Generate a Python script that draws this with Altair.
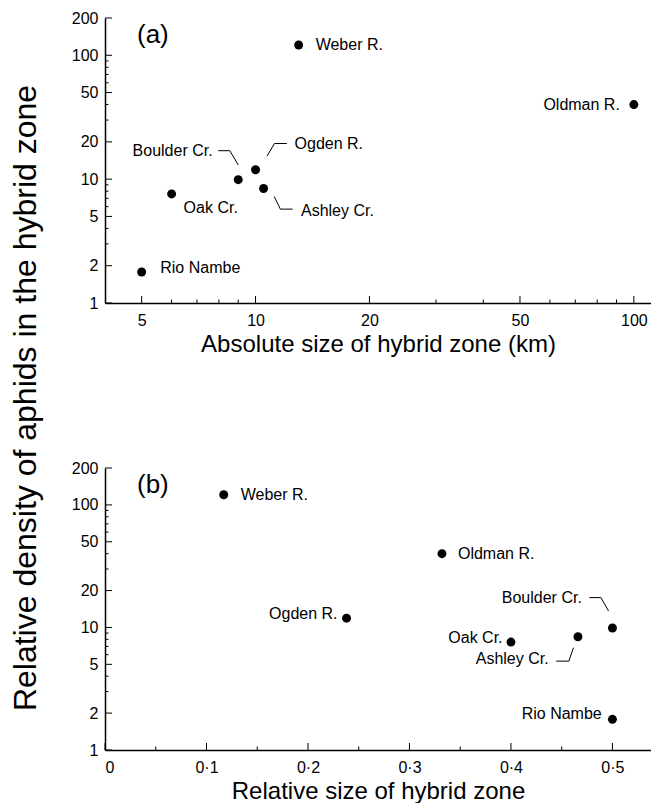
import altair as alt
import numpy as np
import pandas as pd

# ---------------- data ----------------
sites = ["Weber R.", "Oldman R.", "Boulder Cr.", "Ogden R.", "Ashley Cr.", "Oak Cr.", "Rio Nambe"]
abs_size_km = [13.0, 100.0, 9.0, 10.0, 10.5, 6.0, 5.0]
rel_size = [0.117, 0.332, 0.5, 0.238, 0.466, 0.40, 0.5]
density = [121.0, 40.0, 9.9, 11.9, 8.4, 7.6, 1.78]

y_major = [1, 2, 5, 10, 20, 50, 100, 200]
y_minor = [3, 4, 6, 7, 8, 9, 30, 40, 60, 70, 80, 90]
xa_major = [5, 10, 20, 50, 100]
xa_minor = [6, 7, 8, 9, 30, 40, 60, 70, 80, 90]
xb_major = [0, 0.1, 0.2, 0.3, 0.4, 0.5]
xb_minor = [0.05, 0.15, 0.25, 0.35, 0.45]

y_title = "Relative density of aphids in the hybrid zone"
xa_title = "Absolute size of hybrid zone (km)"
xb_title = "Relative size of hybrid zone"

# ---------------- layout / style ----------------
FONT = "Liberation Sans"
W = 546
HA = 285
HB = 282
XA_DOM = [4, 111]
XB_DOM = [0, 0.538]
Y_DOM = [1, 200]

# label placement: pixel offsets from the point (dx, dy, align)
lab_a = {
    "Weber R.": (17, 0, "left"), "Oldman R.": (-14, 0, "right"),
    "Boulder Cr.": (-25.6, -29, "right"), "Ogden R.": (39, -26, "left"),
    "Ashley Cr.": (37.4, 22, "left"), "Oak Cr.": (12, 14.5, "left"),
    "Rio Nambe": (18.6, -4, "left"),
}
lab_b = {
    "Weber R.": (17, 0, "left"), "Oldman R.": (16, 0, "left"),
    "Ogden R.": (-9, -4, "right"), "Oak Cr.": (-8.4, -4, "right"),
    "Ashley Cr.": (-29.3, 22.7, "right"), "Boulder Cr.": (-30.6, -30, "right"),
    "Rio Nambe": (-10.7, -5, "right"),
}
lead_a = {
    "Boulder Cr.": [(-20, -29), (-8.4, -29), (0, -14.7)],
    "Ogden R.": [(31.3, -26.3), (19, -26.3), (11.4, -13.6)],
    "Ashley Cr.": [(10.7, 8), (16.8, 20.6), (29, 20.6)],
}
lead_b = {
    "Boulder Cr.": [(-23, -30.4), (-11.5, -30.4), (-3.9, -17)],
    "Ashley Cr.": [(-21.7, 24.4), (-9.1, 24.4), (-4.5, 11)],
}


def make_panel(xvals, xdom, xlog, xmaj, xmin, xtitle, H, labs, leads, tag, label_expr=None):
    # pixel -> data conversions (derived from the scales below)
    ydec = H / np.log10(Y_DOM[1] / Y_DOM[0])
    if xlog:
        xdec = W / np.log10(xdom[1] / xdom[0])
        fx = lambda x, dx: x * 10 ** (dx / xdec)
    else:
        upp = (xdom[1] - xdom[0]) / W
        fx = lambda x, dx: x + dx * upp
    fy = lambda y, dy: y * 10 ** (-dy / ydec)

    xscale = alt.Scale(type="log" if xlog else "linear", domain=xdom, nice=False, zero=False)
    yscale = alt.Scale(type="log", domain=Y_DOM, nice=False)
    axis_kw = dict(values=xmaj, title=xtitle, titlePadding=4, labelPadding=9)
    if label_expr:
        axis_kw["labelExpr"] = label_expr
    else:
        axis_kw["format"] = "d"
    xaxis = alt.Axis(**axis_kw)
    yaxis = alt.Axis(values=y_major, title=None, format="d", labelPadding=7)

    X = lambda f: alt.X(f, type="quantitative", scale=xscale, axis=xaxis)
    Y = lambda f: alt.Y(f, type="quantitative", scale=yscale, axis=yaxis)

    pts = pd.DataFrame({"site": sites, "x": xvals, "y": density})

    rows = []
    for s, xv, yv in zip(sites, xvals, density):
        dx, dy, al = labs[s]
        rows.append({"site": s, "x": fx(xv, dx), "y": fy(yv, dy), "align": al})
    labdf = pd.DataFrame(rows)

    lrows = []
    for s, segs in leads.items():
        i = sites.index(s)
        for k, (dx, dy) in enumerate(segs):
            lrows.append({"site": s, "k": k, "x": fx(xvals[i], dx), "y": fy(density[i], dy)})
    leaddf = pd.DataFrame(lrows)

    base_pts = alt.Chart(pts).mark_circle(size=80, color="black", opacity=1).encode(x=X("x"), y=Y("y"))
    lab_l = alt.Chart(labdf[labdf["align"] == "left"]).mark_text(
        align="left", baseline="middle", font=FONT, fontSize=16, color="black"
    ).encode(x=X("x"), y=Y("y"), text="site:N")
    lab_r = alt.Chart(labdf[labdf["align"] == "right"]).mark_text(
        align="right", baseline="middle", font=FONT, fontSize=16, color="black"
    ).encode(x=X("x"), y=Y("y"), text="site:N")
    leaders = alt.Chart(leaddf).mark_line(color="black", strokeWidth=1).encode(
        x=X("x"), y=Y("y"), detail="site:N", order="k:Q"
    )

    # inward ticks
    xt_maj = alt.Chart(pd.DataFrame({"x": xmaj})).mark_rule(color="black", strokeWidth=1).encode(
        x=X("x"), y=alt.value(H - 7), y2=alt.value(H))
    xt_min = alt.Chart(pd.DataFrame({"x": xmin})).mark_rule(color="black", strokeWidth=1).encode(
        x=X("x"), y=alt.value(H - 3.5), y2=alt.value(H))
    yt_maj = alt.Chart(pd.DataFrame({"y": y_major})).mark_rule(color="black", strokeWidth=1).encode(
        y=Y("y"), x=alt.value(0), x2=alt.value(7))
    yt_min = alt.Chart(pd.DataFrame({"y": y_minor})).mark_rule(color="black", strokeWidth=1).encode(
        y=Y("y"), x=alt.value(0), x2=alt.value(3.5))

    tagc = alt.Chart(pd.DataFrame({"t": [tag]})).mark_text(
        align="left", baseline="middle", font=FONT, fontSize=26, color="black"
    ).encode(text="t:N", x=alt.value(32), y=alt.value(17))

    return alt.layer(xt_maj, xt_min, yt_maj, yt_min, leaders, base_pts, lab_l, lab_r, tagc).properties(
        width=W, height=H)


pa = make_panel(abs_size_km, XA_DOM, True, xa_major, xa_minor, xa_title, HA, lab_a, lead_a, "(a)")
pb = make_panel(rel_size, XB_DOM, False, xb_major, xb_minor, xb_title, HB, lab_b, lead_b, "(b)",
                label_expr="datum.value == 0 ? '0' : replace(format(datum.value, '.1f'), '.', '·')")

TH = 752
ytitle = alt.Chart(pd.DataFrame({"t": [y_title]})).mark_text(
    angle=270, align="center", baseline="middle", font=FONT, fontSize=32, color="black"
).encode(text="t:N", x=alt.value(18), y=alt.value(380)).properties(width=36, height=TH)

chart = alt.hconcat(
    ytitle,
    alt.vconcat(pa, pb, spacing=104),
    spacing=27,
).properties(
    padding={"left": 0, "top": 2, "right": 0, "bottom": 0},
    background="white",
).configure_view(stroke=None).configure_axis(
    domainColor="black", domainWidth=1.5, ticks=False, grid=False,
    labelFont=FONT, labelFontSize=16, labelColor="black",
    titleFont=FONT, titleFontSize=24, titleColor="black", titleFontWeight="normal",
)

chart.save("out.html", embed_options={"renderer": "svg", "actions": False})
